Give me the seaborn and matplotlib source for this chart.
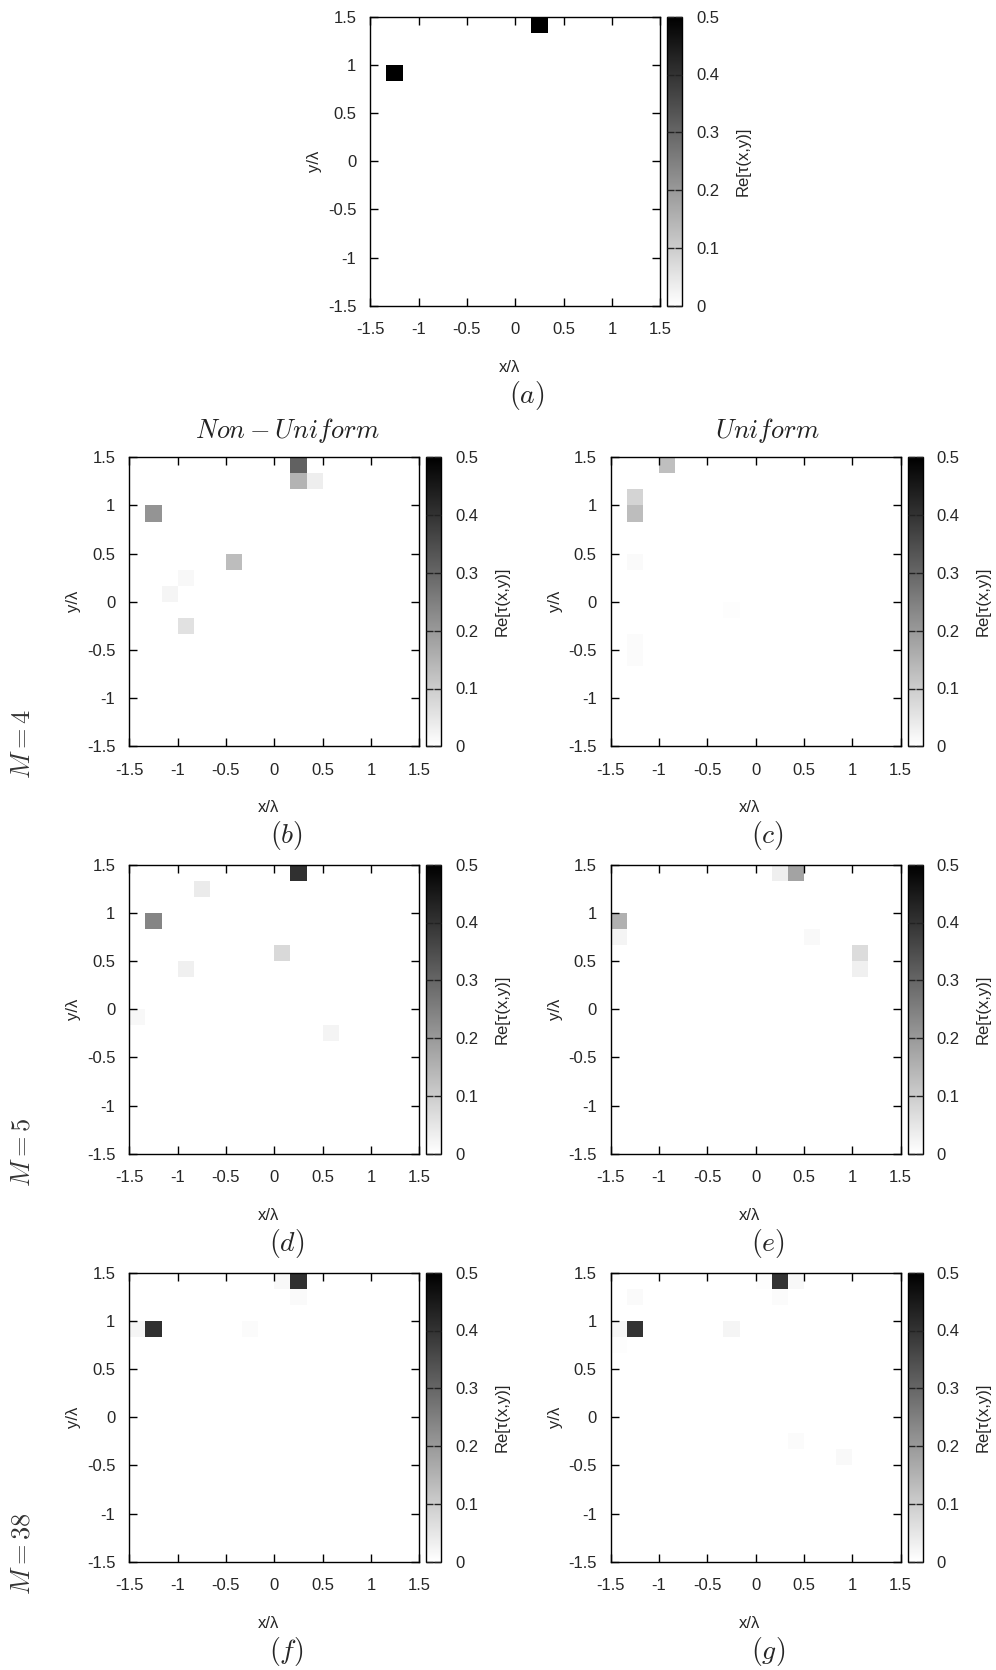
import numpy as np
import pandas as pd
import seaborn as sns
import matplotlib.pyplot as plt

# Grid: 18 x 18 cells from -1.5 to 1.5 (step 1/6 wavelength)
n_cells = 18
x_min, x_max = -1.5, 1.5
tick_vals = [-1.5, -1, -0.5, 0, 0.5, 1, 1.5]
tick_labels = ['-1.5', '-1', '-0.5', '0', '0.5', '1', '1.5']
cbar_ticks = [0, 0.1, 0.2, 0.3, 0.4, 0.5]

# Non-zero cells (centre x/lambda, centre y/lambda, Re[tau])
# (a) reference
a_x = [0.25, -1.25]
a_y = [1.417, 0.917]
a_v = [0.5, 0.5]

# (b) non-uniform, M = 4
b_x = [0.25, 0.25, 0.417, -1.25, -0.417, -0.917, -1.083, -0.917]
b_y = [1.417, 1.25, 1.25, 0.917, 0.417, 0.25, 0.083, -0.25]
b_v = [0.31, 0.15, 0.035, 0.21, 0.13, 0.015, 0.02, 0.06]

# (c) uniform, M = 4
c_x = [-0.917, -1.25, -1.25, -1.25, -1.25, -1.25, -0.25]
c_y = [1.417, 1.083, 0.917, 0.417, -0.417, -0.583, -0.083]
c_v = [0.125, 0.085, 0.13, 0.01, 0.008, 0.008, 0.005]

# (d) non-uniform, M = 5
d_x = [0.25, -0.75, -1.25, 0.083, -0.917, -1.417, 0.583]
d_y = [1.417, 1.25, 0.917, 0.583, 0.417, -0.083, -0.25]
d_v = [0.405, 0.04, 0.24, 0.076, 0.03, 0.015, 0.023]

# (e) uniform, M = 5
e_x = [0.25, 0.417, -1.417, -1.417, 0.583, 1.083, 1.083]
e_y = [1.417, 1.417, 0.917, 0.75, 0.75, 0.583, 0.417]
e_v = [0.033, 0.18, 0.155, 0.023, 0.013, 0.07, 0.03]

# (f) non-uniform, M = 38
f_x = [0.25, 0.083, 0.25, -1.25, -1.417, -0.25]
f_y = [1.417, 1.417, 1.25, 0.917, 0.917, 0.917]
f_v = [0.405, 0.015, 0.01, 0.405, 0.02, 0.008]

# (g) uniform, M = 38
g_x = [0.25, 0.417, 0.25, 0.083, -1.25, -1.25, -1.417, -1.417, -0.25, 0.417, 0.917]
g_y = [1.417, 1.417, 1.25, 1.417, 1.25, 0.917, 0.917, 0.75, 0.917, -0.25, -0.417]
g_v = [0.4, 0.015, 0.008, 0.005, 0.01, 0.4, 0.018, 0.005, 0.02, 0.008, 0.012]


def make_grid(xs, ys, vals):
    step = (x_max - x_min) / n_cells
    centres = x_min + step * (np.arange(n_cells) + 0.5)
    z = np.zeros((n_cells, n_cells))
    cols = np.floor((np.array(xs) - x_min) / step).astype(int)
    rows = np.floor((x_max - np.array(ys)) / step).astype(int)
    z[rows, cols] = vals
    return pd.DataFrame(z, index=np.round(centres[::-1], 3), columns=np.round(centres, 3))


sns.set_style('white')
plt.rcParams['font.family'] = ['Liberation Sans', 'DejaVu Sans']
plt.rcParams['mathtext.fontset'] = 'cm'

W, H = 996, 1670
fig = plt.figure(figsize=(W / 100, H / 100), dpi=100)


def draw_panel(left, top, xs, ys, vals, letter):
    ax_w, ax_h = 290, 289
    ax = fig.add_axes([left / W, 1 - (top + ax_h) / H, ax_w / W, ax_h / H])
    cax = fig.add_axes([(left + 297) / W, 1 - (top + ax_h) / H, 15 / W, ax_h / H])
    df = make_grid(xs, ys, vals)
    sns.heatmap(df, ax=ax, cmap='gray_r', vmin=0, vmax=0.5, cbar_ax=cax,
                xticklabels=False, yticklabels=False,
                cbar_kws={'ticks': cbar_ticks, 'format': '%g'})

    pos = [(v - x_min) / (x_max - x_min) * n_cells for v in tick_vals]
    ax.set_xticks(pos)
    ax.set_xticklabels(tick_labels)
    ax.set_yticks(pos)
    ax.set_yticklabels(tick_labels[::-1])
    ax.set_axisbelow(False)
    for s in ax.spines.values():
        s.set_visible(True)
        s.set_color('black')
        s.set_linewidth(1.0)
    ax.tick_params(direction='in', top=True, right=True, bottom=True, left=True,
                   length=6, width=1, color='black', labelsize=12)
    ax.tick_params(axis='x', pad=12)
    ax.tick_params(axis='y', pad=10)
    ax.set_xlabel('x/λ', fontsize=12)
    ax.set_ylabel('y/λ', fontsize=12)
    ax.xaxis.set_label_coords(0.48, -0.187)
    ax.yaxis.set_label_coords(-0.166, 0.5)

    cbar = ax.collections[0].colorbar
    cbar.ax.set_axisbelow(False)
    cbar.outline.set_edgecolor('black')
    cbar.outline.set_linewidth(1.0)
    cbar.ax.tick_params(direction='in', left=True, right=True, length=5, width=1,
                        color='#222222', labelsize=12, pad=10)
    cbar.set_label('Re[τ(x,y)]', fontsize=12)
    cbar.ax.yaxis.set_label_coords(4.55, 0.5)

    ax.text(0.541, -0.31, '$(' + letter + ')$', transform=ax.transAxes,
            ha='center', va='center', fontsize=20)
    return ax


draw_panel(370.3, 16.7, a_x, a_y, a_v, 'a')
ax_b = draw_panel(129.3, 457.3, b_x, b_y, b_v, 'b')
ax_c = draw_panel(610.7, 457.3, c_x, c_y, c_v, 'c')
ax_d = draw_panel(129.3, 864.7, d_x, d_y, d_v, 'd')
draw_panel(610.7, 864.7, e_x, e_y, e_v, 'e')
ax_f = draw_panel(129.3, 1272.7, f_x, f_y, f_v, 'f')
draw_panel(610.7, 1272.7, g_x, g_y, g_v, 'g')

# column titles
ax_b.text(0.545, 1.094, '$Non-Uniform$', transform=ax_b.transAxes,
          ha='center', va='center', fontsize=19, color='#222222')
ax_c.text(0.541, 1.094, '$Uniform$', transform=ax_c.transAxes,
          ha='center', va='center', fontsize=19, color='#222222')

# row labels
for ax, lab in [(ax_b, '$M = 4$'), (ax_d, '$M = 5$'), (ax_f, '$M = 38$')]:
    ax.text(-0.367, -0.114, lab, transform=ax.transAxes, rotation=90,
            ha='center', va='bottom', fontsize=19, color='#333333')

fig.savefig('out.png', dpi=100)
